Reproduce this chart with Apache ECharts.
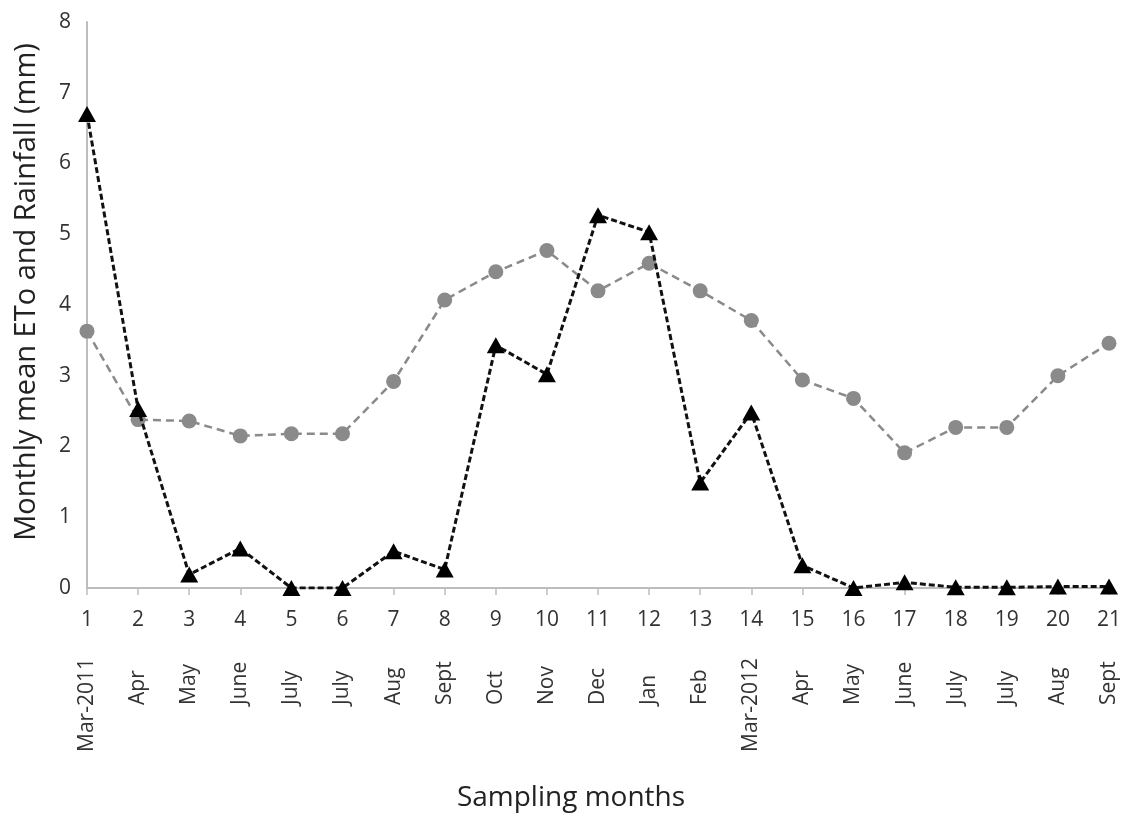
<!DOCTYPE html>
<html>
<head>
<meta charset="utf-8">
<script src="https://cdn.jsdelivr.net/npm/echarts@6/dist/echarts.min.js"></script>
<style>html,body{margin:0;padding:0;background:#fff}#c{width:1127px;height:823px}</style>
</head>
<body>
<div id="c"></div>
<script>
const sampleNumbers = ['1','2','3','4','5','6','7','8','9','10','11','12','13','14','15','16','17','18','19','20','21'];
const monthLabels = ['Mar-2011','Apr','May','June','July','July','Aug','Sept','Oct','Nov','Dec','Jan','Feb','Mar-2012','Apr','May','June','July','July','Aug','Sept'];
const etoValues = [3.63,2.38,2.36,2.15,2.18,2.18,2.92,4.07,4.47,4.77,4.2,4.59,4.2,3.78,2.94,2.68,1.91,2.27,2.27,3.0,3.46];
const rainfallValues = [6.7,2.53,0.19,0.56,0,0,0.52,0.26,3.43,3.02,5.27,5.03,1.49,2.48,0.32,0,0.08,0.01,0.01,0.02,0.02];
const yTicks = {min:0,max:8,interval:1};

const font = 'Open Sans';
const txt = '#333';
// long month labels are centred on the anchor, short ones start there (as in the original layout)
const monthData = monthLabels.map(m => ({value:m, textStyle:{align: m.length > 5 ? 'center' : 'left'}}));

const chart = echarts.init(document.getElementById('c'), null, {renderer:'canvas'});
chart.setOption({
  animation:false,
  backgroundColor:'#fff',
  grid:{left:87,right:18,top:22,bottom:235,containLabel:false},
  xAxis:[{
    type:'category',data:sampleNumbers,boundaryGap:false,position:'bottom',
    axisLine:{lineStyle:{color:'#bdbdbd',width:2}},
    axisTick:{show:true,length:7,lineStyle:{color:'#bdbdbd',width:1.5}},
    axisLabel:{color:txt,fontFamily:font,fontSize:21,margin:22,interval:0},
    name:'Sampling months',nameLocation:'middle',nameGap:196,
    nameTextStyle:{color:'#222',fontFamily:font,fontSize:28,padding:[0,54,0,0]}
  },{
    type:'category',data:monthData,boundaryGap:false,position:'bottom',
    axisLine:{show:false},axisTick:{show:false},
    axisLabel:{color:txt,fontFamily:font,fontSize:21,rotate:90,margin:117,interval:0}
  }],
  yAxis:{
    type:'value',min:yTicks.min,max:yTicks.max,interval:yTicks.interval,
    axisLine:{show:true,lineStyle:{color:'#bdbdbd',width:2}},
    axisTick:{show:false},splitLine:{show:false},
    axisLabel:{color:txt,fontFamily:font,fontSize:21,margin:16},
    name:'Monthly mean ETo and Rainfall (mm)',nameLocation:'middle',nameGap:46,
    nameTextStyle:{color:'#222',fontFamily:font,fontSize:29,padding:[0,0,0,26]}
  },
  series:[{
    type:'line',data:etoValues,xAxisIndex:0,
    symbol:'circle',symbolSize:15,
    itemStyle:{color:'#8a8a8a'},
    lineStyle:{color:'#8a8a8a',width:2.5,type:[8,5]},
    z:2
  },{
    type:'line',data:rainfallValues,xAxisIndex:0,
    symbol:'triangle',symbolSize:[18,16],
    itemStyle:{color:'#000'},
    lineStyle:{color:'#111',width:3,type:[6,3]},
    z:3
  }]
});
</script>
</body>
</html>
